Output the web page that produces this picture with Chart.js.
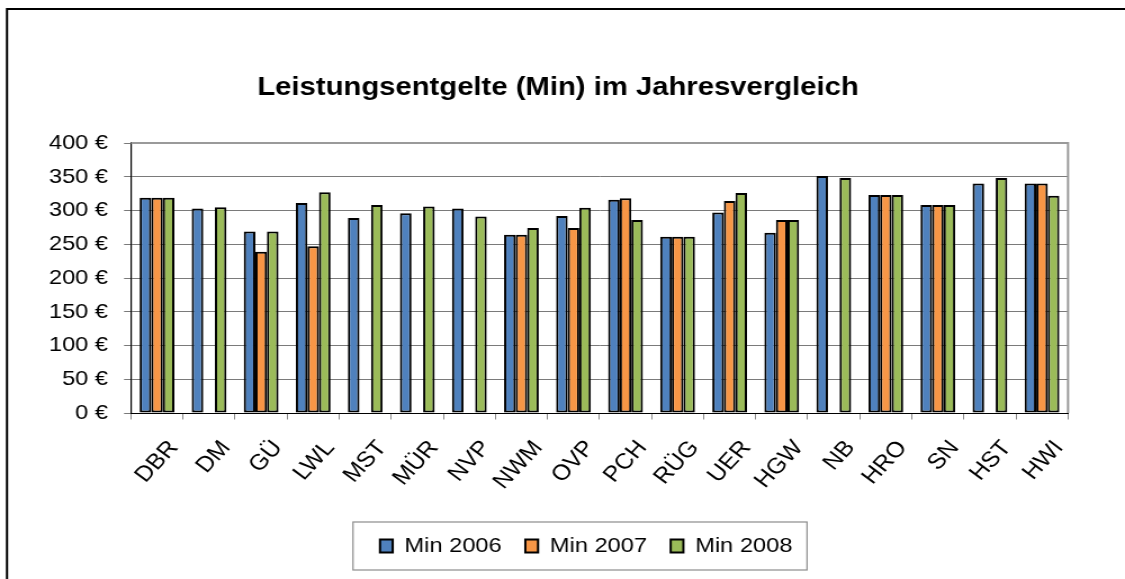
<!DOCTYPE html>
<html>
<head>
<meta charset="utf-8">
<script src="https://cdn.jsdelivr.net/npm/chart.js@4/dist/chart.umd.min.js"></script>
<style>
  html, body { margin: 0; padding: 0; background: #fff; overflow: hidden; }
</style>
</head>
<body>
<canvas id="c" width="1000" height="579" style="display:block;width:1125px;height:579px;"></canvas>
<script>
const categories = ['DBR','DM','GÜ','LWL','MST','MÜR','NVP','NWM','OVP','PCH','RÜG','UER','HGW','NB','HRO','SN','HST','HWI'];
const min2006 = [319,303,269,311,289,296,303,264,292,316,261,297,267,351,323,308,340,340];
const min2007 = [319,null,239,247,null,null,null,264,274,318,261,314,286,null,323,308,null,340];
const min2008 = [319,305,269,327,308,306,291,274,304,286,261,326,286,348,323,308,348,322];
const seriesNames = ['Min 2006','Min 2007','Min 2008'];
const yTicks = [0,50,100,150,200,250,300,350,400];
const titleText = 'Leistungsentgelte (Min) im Jahresvergleich';

const FONT = "Arial, 'Liberation Sans', sans-serif";
Chart.defaults.font.family = FONT;
Chart.defaults.color = '#000';

const SX = 1.125; // canvas is stretched horizontally by CSS

const decor = {
  id: 'decor',
  afterLayout(chart) {
    const t = chart.titleBlock;
    if (t) {
      const w = t.right - t.left;
      const cx = 558 / SX;
      t.left = cx - w / 2; t.right = cx + w / 2;
    }
    const lg = chart.legend;
    if (lg && lg.lineWidths) {
      const pad = lg.options.labels.padding;
      const x0 = (lg.left + pad + lg.right - lg.lineWidths[0]) / 2;
      const d = 380 / SX - x0;
      lg.left += d; lg.right += d;
    }
  },
  afterDraw(chart) {
    const ctx = chart.ctx;
    const a = chart.chartArea;
    ctx.save();
    ctx.strokeStyle = '#9a9a9a';
    ctx.lineWidth = 2;
    ctx.beginPath();
    ctx.moveTo(a.left, a.top);
    ctx.lineTo(a.right, a.top);
    ctx.lineTo(a.right, a.bottom);
    ctx.stroke();
    const hb = chart.legend.legendHitBoxes;
    if (hb && hb.length) {
      const last = hb[hb.length - 1];
      const cy = hb[0].top + hb[0].height / 2;
      const l = hb[0].left - 24, r = last.left + last.width + 13;
      ctx.strokeStyle = '#8c8c8c';
      ctx.lineWidth = 1.2;
      ctx.strokeRect(l, cy - 24, r - l, 48);
    }
    ctx.strokeStyle = '#000';
    ctx.lineWidth = 2;
    ctx.beginPath();
    ctx.moveTo(7 / SX, 600);
    ctx.lineTo(7 / SX, 9);
    ctx.lineTo(1010, 9);
    ctx.stroke();
    ctx.restore();
  }
};

const colors = ['#4F81BD', '#F79646', '#9BBB59'];
const values = [min2006, min2007, min2008];

new Chart(document.getElementById('c'), {
  type: 'bar',
  data: {
    labels: categories,
    datasets: seriesNames.map((n, i) => ({
      label: n,
      data: values[i],
      backgroundColor: colors[i],
      borderColor: '#000',
      borderWidth: 2,
      borderSkipped: false,
      categoryPercentage: 0.667,
      barPercentage: 1.0
    }))
  },
  options: {
    responsive: false,
    animation: false,
    devicePixelRatio: 1,
    layout: { padding: { top: 0, left: 0, right: 1125 / SX - 1068 / SX, bottom: 12.5 } },
    plugins: {
      title: {
        display: true,
        text: titleText,
        font: { size: 26, weight: 'bold', family: FONT },
        color: '#000',
        padding: { top: 72.4, bottom: 39.4 }
      },
      legend: {
        position: 'bottom',
        labels: {
          boxWidth: 11.3,
          boxHeight: 13,
          padding: 21,
          font: { size: 21, family: FONT },
          color: '#000'
        }
      },
      tooltip: { enabled: false }
    },
    scales: {
      x: {
        grid: { drawOnChartArea: false, drawTicks: true, tickLength: 6.5, color: '#8a8a8a', offset: true },
        border: { color: '#000', width: 1 },
        ticks: {
          autoSkip: false, maxRotation: 50, minRotation: 50,
          labelOffset: 15, padding: 16,
          font: { size: 22, family: FONT }, color: '#000'
        },
        afterFit(s) { s.height = 101.5; }
      },
      y: {
        min: 0, max: 400,
        afterBuildTicks(s) { s.ticks = yTicks.map(v => ({ value: v })); },
        grid: { color: '#7a7a7a', lineWidth: 1, tickLength: 6.2, drawTicks: true },
        border: { color: '#000', width: 1.2 },
        ticks: {
          padding: 14.2,
          font: { size: 21, family: FONT }, color: '#000',
          callback: v => v + ' €'
        },
        afterFit(s) { s.width = 131 / SX; }
      }
    }
  },
  plugins: [decor]
});
</script>
</body>
</html>
